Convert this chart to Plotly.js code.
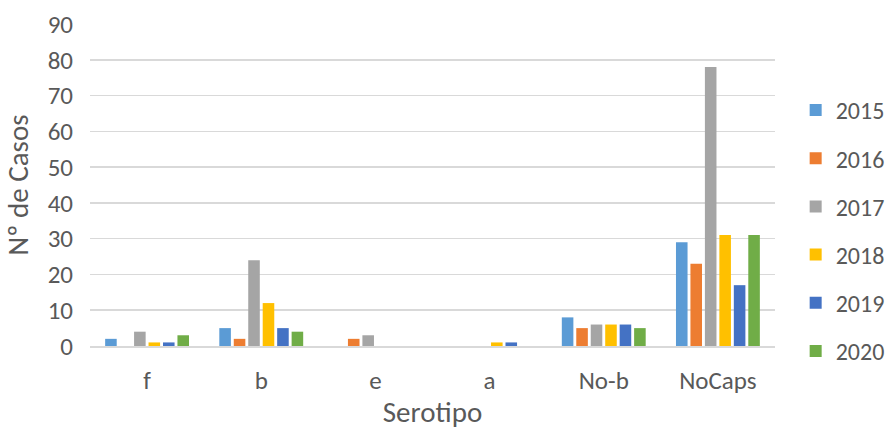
<!DOCTYPE html>
<html><head><meta charset="utf-8">
<script src="https://cdn.plot.ly/plotly-3.0.1.min.js"></script>
<style>html,body{margin:0;padding:0;background:#fff}#c{width:891px;height:430px}</style>
</head><body><div id="c"></div>
<script>
const categories = ["f","b","e","a","No-b","NoCaps"];
const years = ["2015","2016","2017","2018","2019","2020"];
const v2015 = [2,5,0,0,8,29];
const v2016 = [0,2,2,0,5,23];
const v2017 = [4,24,3,0,6,78];
const v2018 = [1,12,0,1,6,31];
const v2019 = [1,5,0,1,6,17];
const v2020 = [3,4,0,0,5,31];
const colors = ["#5B9BD5","#ED7D31","#A5A5A5","#FFC000","#4472C4","#70AD47"];
const series = [v2015,v2016,v2017,v2018,v2019,v2020];
const traces = series.map((s,i)=>({type:"bar",name:years[i],legendgroup:years[i],x:categories,y:s,marker:{color:colors[i]}}));
const font = "Carlito, 'Open Sans', 'Liberation Sans', sans-serif";
Plotly.newPlot("c",traces,{
  width:891,height:430,
  margin:{l:90,r:116,t:24,b:84},
  paper_bgcolor:"#fff",plot_bgcolor:"#fff",
  font:{family:font,color:"#595959",size:25},
  barmode:"group",bargap:0.24,bargroupgap:0.2,
  xaxis:{showline:true,linecolor:"#D9D9D9",linewidth:1.5,ticks:"",tickfont:{size:25,color:"#595959"},
    ticklabelstandoff:11,automargin:false,
    title:{text:"Serotipo",font:{size:29,color:"#595959"},standoff:11}},
  yaxis:{range:[0,90],dtick:10,gridcolor:"#D9D9D9",gridwidth:1.5,zeroline:false,showline:false,automargin:false,
    tickfont:{size:25,color:"#595959"},ticklen:0,ticklabelstandoff:16,
    title:{text:"Nº de Casos",font:{size:29,color:"#595959"},standoff:10}},
  legend:{xref:"container",yref:"container",x:0.893,xanchor:"left",y:0.463,yanchor:"middle",maxheight:420,
    font:{size:24,color:"#595959"},tracegroupgap:14,itemwidth:30},
  showlegend:true
},{displayModeBar:false,staticPlot:true});
</script></body></html>
